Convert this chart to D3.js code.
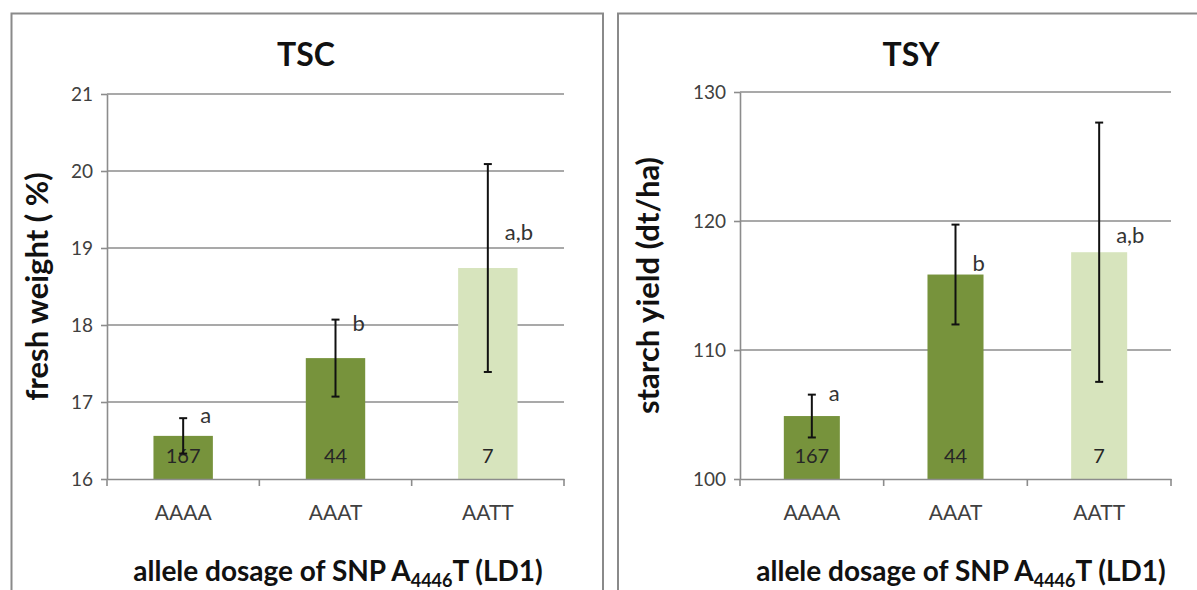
<!DOCTYPE html>
<html>
<head>
<meta charset="utf-8">
<script src="https://cdn.jsdelivr.net/npm/d3@7"></script>
<style>
  html, body { margin: 0; padding: 0; background: #fff; }
  svg { display: block; }
  text { font-family: Lato, "Open Sans", sans-serif; }
</style>
</head>
<body>
<svg id="chart" width="1197" height="590"></svg>
<script>
// Genotype classes and number of clones per class
const categories = ["AAAA", "AAAT", "AATT"];
const counts = [167, 44, 7];

// Tuber starch content (% fresh weight): means and error half-widths
const tscMean = [16.56, 17.57, 18.74];
const tscErr = [0.23, 0.5, 1.35];
const tscTicks = [16, 17, 18, 19, 20, 21];
const tscLetters = ["a", "b", "a,b"];
const tscLetterAt = [16.83, 18.02, 19.2];

// Tuber starch yield (dt/ha): means and error half-widths
const tsyMean = [104.88, 115.85, 117.58];
const tsyErr = [1.66, 3.87, 10.05];
const tsyTicks = [100, 110, 120, 130];
const tsyLetters = ["a", "b", "a,b"];
const tsyLetterAt = [106.67, 116.74, 118.91];

const barColors = ["#77933c", "#77933c", "#d7e4bd"];

const svg = d3.select("#chart");

const panels = [
  {
    title: "TSC", yTitle: "fresh weight ( %)",
    mean: tscMean, err: tscErr, ticks: tscTicks, letters: tscLetters, letterAt: tscLetterAt,
    frame: [11.5, 13.5, 603, 620],
    xRange: [107, 564], yRange: [479, 94],
    titleX: 306, yTitleX: 37, xTitleX: 338
  },
  {
    title: "TSY", yTitle: "starch yield (dt/ha)",
    mean: tsyMean, err: tsyErr, ticks: tsyTicks, letters: tsyLetters, letterAt: tsyLetterAt,
    frame: [618, 13.5, 1215, 620],
    xRange: [740, 1171], yRange: [479, 92],
    titleX: 911, yTitleX: 648, xTitleX: 961
  }
];

const gridColor = "#8c8c8c";

panels.forEach(p => {
  const g = svg.append("g");

  // chart frame
  g.append("rect")
    .attr("x", p.frame[0]).attr("y", p.frame[1])
    .attr("width", p.frame[2] - p.frame[0]).attr("height", p.frame[3] - p.frame[1])
    .attr("fill", "#fff").attr("stroke", "#8a8a8a").attr("stroke-width", 2);

  const x = d3.scaleBand().domain(categories).range(p.xRange).padding(0);
  const y = d3.scaleLinear()
    .domain([p.ticks[0], p.ticks[p.ticks.length - 1]])
    .range(p.yRange);

  // horizontal gridlines
  g.append("g").selectAll("line").data(p.ticks.slice(1)).join("line")
    .attr("x1", p.xRange[0]).attr("x2", p.xRange[1])
    .attr("y1", d => y(d)).attr("y2", d => y(d))
    .attr("stroke", gridColor).attr("stroke-width", 1.6);

  // y axis
  const yAxis = g.append("g")
    .attr("transform", `translate(${p.xRange[0]},0)`)
    .call(d3.axisLeft(y).tickValues(p.ticks).tickFormat(d3.format("d"))
      .tickSize(6).tickSizeOuter(0).tickPadding(8));
  yAxis.select(".domain").attr("stroke", gridColor).attr("stroke-width", 1.6);
  yAxis.selectAll(".tick line").attr("stroke", gridColor).attr("stroke-width", 1.6);
  yAxis.selectAll(".tick text")
    .attr("font-size", 19).attr("fill", "#404040")
    .attr("font-family", "Lato, sans-serif");

  // bars
  const barW = x.bandwidth() * 0.39;
  const cx = c => x(c) + x.bandwidth() / 2;
  g.append("g").selectAll("rect").data(categories).join("rect")
    .attr("x", c => cx(c) - barW / 2)
    .attr("width", barW)
    .attr("y", (c, i) => y(p.mean[i]))
    .attr("height", (c, i) => y(p.ticks[0]) - y(p.mean[i]))
    .attr("fill", (c, i) => barColors[i]);

  // x axis with ticks at the category boundaries
  const xAxis = g.append("g")
    .attr("transform", `translate(0,${p.yRange[0]})`)
    .call(d3.axisBottom(x).tickSize(0).tickPadding(26));
  xAxis.select(".domain").attr("stroke", gridColor).attr("stroke-width", 1.6);
  xAxis.selectAll(".tick text")
    .attr("font-size", 21).attr("fill", "#404040")
    .attr("font-family", "Lato, sans-serif");
  const bounds = categories.map(c => x(c)).concat([p.xRange[1]]);
  xAxis.append("g").selectAll("line").data(bounds).join("line")
    .attr("x1", d => d).attr("x2", d => d)
    .attr("y1", 0).attr("y2", 7)
    .attr("stroke", gridColor).attr("stroke-width", 1.6);

  // clone counts inside bars
  g.append("g").selectAll("text").data(categories).join("text")
    .attr("x", c => cx(c))
    .attr("y", p.yRange[0] - 16)
    .attr("text-anchor", "middle")
    .attr("font-size", 20).attr("fill", "#262626")
    .text((c, i) => counts[i]);

  // error bars
  const eb = g.append("g").attr("stroke", "#111").attr("stroke-width", 2);
  categories.forEach((c, i) => {
    const lo = y(p.mean[i] - p.err[i]), hi = y(p.mean[i] + p.err[i]);
    eb.append("line").attr("x1", cx(c)).attr("x2", cx(c)).attr("y1", lo).attr("y2", hi);
    eb.append("line").attr("x1", cx(c) - 4).attr("x2", cx(c) + 4).attr("y1", lo).attr("y2", lo);
    eb.append("line").attr("x1", cx(c) - 4).attr("x2", cx(c) + 4).attr("y1", hi).attr("y2", hi);
  });

  // significance letters
  g.append("g").selectAll("text").data(categories).join("text")
    .attr("x", c => cx(c) + 17)
    .attr("y", (c, i) => y(p.letterAt[i]))
    .attr("dy", "0.35em")
    .attr("font-size", 22).attr("fill", "#333")
    .text((c, i) => p.letters[i]);

  // chart title
  g.append("text")
    .attr("x", p.titleX).attr("y", 66)
    .attr("text-anchor", "middle")
    .attr("font-size", 32).attr("font-weight", "bold").attr("fill", "#111")
    .text(p.title);

  // y axis title
  g.append("text")
    .attr("transform", `translate(${p.yTitleX},${(p.yRange[0] + p.yRange[1]) / 2}) rotate(-90)`)
    .attr("text-anchor", "middle").attr("dy", "0.35em")
    .attr("font-size", 31).attr("font-weight", "bold").attr("fill", "#111")
    .text(p.yTitle);

  // x axis title with subscript position number
  const xt = g.append("text")
    .attr("x", p.xTitleX).attr("y", 581)
    .attr("text-anchor", "middle")
    .attr("font-size", 28).attr("font-weight", "bold").attr("fill", "#111");
  xt.append("tspan").text("allele dosage of SNP A");
  xt.append("tspan").attr("font-size", 18).attr("dy", 6).text("4446");
  xt.append("tspan").attr("dy", -6).text("T (LD1)");
});
</script>
</body>
</html>
